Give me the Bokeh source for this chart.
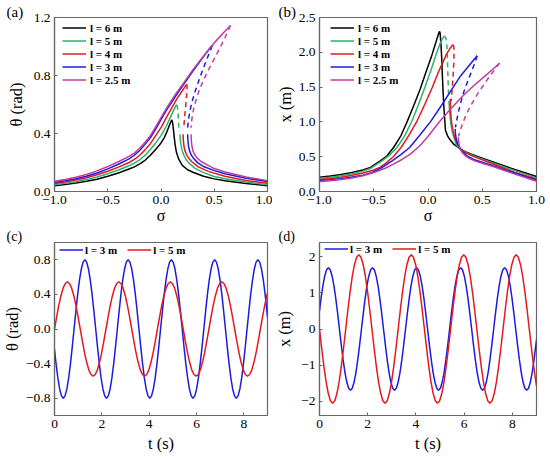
from bokeh.plotting import figure
from bokeh.models import Range1d, FixedTicker, CustomJSTickFormatter, Legend, LegendItem
from bokeh.layouts import gridplot
from bokeh.embed import file_html
from bokeh.resources import INLINE

FONT = "Liberation Serif"
FRAME_COLOR = "#666666"

# ---------------- categories ----------------
L_LABELS = ["l = 6 m", "l = 5 m", "l = 4 m", "l = 3 m", "l = 2.5 m"]
COLORS = ["#000000", "#2bb36c", "#e3191e", "#1c1ce0", "#c23c9f"]
TS_LABELS = ["l = 3 m", "l = 5 m"]
TS_COLORS = ["#1c1ce0", "#e3191e"]

# ---------------- panel (a): theta vs sigma ----------------
a6_sig = [-1.0, -0.9, -0.8, -0.7, -0.6, -0.5, -0.4, -0.3, -0.25, -0.2, -0.15, -0.1, -0.05, 0.0, 0.03, 0.06, 0.08, 0.095, 0.102,
          0.11, 0.118, 0.125, 0.133, 0.145, 0.165, 0.2, 0.25, 0.3, 0.4, 0.5, 0.6, 0.8, 1.0]
a6_th = [0.04, 0.048, 0.058, 0.07, 0.085, 0.105, 0.128, 0.155, 0.17, 0.19, 0.215, 0.25, 0.29, 0.335, 0.37, 0.42, 0.458, 0.485, 0.494,
         0.47, 0.42, 0.37, 0.32, 0.27, 0.225, 0.18, 0.15, 0.133, 0.105, 0.087, 0.074, 0.055, 0.04]

a5_up_sig = [-1.0, -0.9, -0.8, -0.7, -0.6, -0.5, -0.4, -0.3, -0.25, -0.2, -0.15, -0.1, -0.05, 0.0, 0.05, 0.1, 0.125, 0.14, 0.148]
a5_up_th = [0.047, 0.056, 0.068, 0.082, 0.1, 0.123, 0.148, 0.178, 0.195, 0.218, 0.25, 0.29, 0.335, 0.385, 0.45, 0.53, 0.57, 0.59, 0.598]
a5_mid_sig = [0.148, 0.155, 0.16, 0.164, 0.167, 0.169]
a5_mid_th = [0.598, 0.58, 0.54, 0.49, 0.44, 0.41]
a5_lo_sig = [0.178, 0.182, 0.19, 0.2, 0.215, 0.24, 0.27, 0.32, 0.4, 0.5, 0.6, 0.8, 1.0]
a5_lo_th = [0.395, 0.35, 0.31, 0.28, 0.25, 0.215, 0.19, 0.16, 0.13, 0.104, 0.088, 0.065, 0.047]

a4_up_sig = [-1.0, -0.9, -0.8, -0.7, -0.6, -0.5, -0.4, -0.3, -0.25, -0.2, -0.15, -0.1, -0.05, 0.0, 0.05, 0.1, 0.15, 0.2, 0.23, 0.243]
a4_up_th = [0.055, 0.066, 0.079, 0.095, 0.115, 0.14, 0.168, 0.2, 0.222, 0.25, 0.287, 0.33, 0.385, 0.44, 0.51, 0.575, 0.64, 0.695, 0.728, 0.74]
a4_mid_sig = [0.243, 0.245, 0.24, 0.232, 0.224, 0.217, 0.212]
a4_mid_th = [0.74, 0.72, 0.66, 0.59, 0.53, 0.47, 0.43]
a4_lo_sig = [0.207, 0.21, 0.215, 0.225, 0.24, 0.26, 0.29, 0.35, 0.45, 0.6, 0.8, 1.0]
a4_lo_th = [0.395, 0.35, 0.315, 0.28, 0.255, 0.23, 0.205, 0.17, 0.137, 0.105, 0.076, 0.057]

a3_up_sig = [-1.0, -0.9, -0.8, -0.7, -0.6, -0.5, -0.4, -0.3, -0.25, -0.2, -0.15, -0.1, -0.05, 0.0, 0.05, 0.1, 0.15, 0.2, 0.3, 0.4, 0.46, 0.48]
a3_up_th = [0.062, 0.074, 0.088, 0.105, 0.128, 0.156, 0.188, 0.225, 0.25, 0.283, 0.325, 0.37, 0.43, 0.495, 0.56, 0.615, 0.672, 0.725, 0.83, 0.93, 0.99, 1.007]
a3_mid_sig = [0.48, 0.47, 0.44, 0.4, 0.36, 0.32, 0.29, 0.27, 0.257, 0.25]
a3_mid_th = [1.007, 0.985, 0.93, 0.855, 0.775, 0.69, 0.615, 0.55, 0.49, 0.44]
a3_lo_sig = [0.25, 0.253, 0.258, 0.268, 0.285, 0.31, 0.35, 0.4, 0.5, 0.6, 0.8, 1.0]
a3_lo_th = [0.395, 0.35, 0.315, 0.28, 0.25, 0.225, 0.195, 0.172, 0.144, 0.122, 0.092, 0.069]

a25_up_sig = [-1.0, -0.9, -0.8, -0.7, -0.6, -0.5, -0.4, -0.3, -0.25, -0.2, -0.15, -0.1, -0.05, 0.0, 0.05, 0.1, 0.15, 0.2, 0.3, 0.4, 0.5, 0.6, 0.64, 0.651]
a25_up_th = [0.07, 0.083, 0.098, 0.117, 0.142, 0.172, 0.205, 0.242, 0.265, 0.298, 0.34, 0.385, 0.445, 0.51, 0.572, 0.63, 0.685, 0.735, 0.84, 0.935, 1.025, 1.105, 1.135, 1.145]
a25_mid_sig = [0.651, 0.635, 0.6, 0.55, 0.5, 0.45, 0.4, 0.36, 0.33, 0.305, 0.29, 0.282]
a25_mid_th = [1.145, 1.115, 1.06, 0.985, 0.915, 0.845, 0.77, 0.7, 0.635, 0.565, 0.5, 0.44]
a25_lo_sig = [0.282, 0.285, 0.29, 0.3, 0.315, 0.34, 0.38, 0.43, 0.5, 0.6, 0.8, 1.0]
a25_lo_th = [0.395, 0.35, 0.315, 0.28, 0.255, 0.23, 0.205, 0.185, 0.158, 0.135, 0.1, 0.075]

# ---------------- panel (b): x vs sigma ----------------
b6_sig = [-1.0, -0.9, -0.8, -0.7, -0.6, -0.53, -0.44, -0.38, -0.317, -0.25, -0.193, -0.13, -0.07, -0.02, 0.038, 0.06, 0.08, 0.095, 0.105,
          0.11, 0.113, 0.12, 0.127, 0.133, 0.14, 0.148, 0.161, 0.18, 0.2, 0.237, 0.3, 0.35, 0.4, 0.5, 0.6, 0.8, 1.0]
b6_x = [0.205, 0.222, 0.243, 0.272, 0.31, 0.345, 0.44, 0.51, 0.632, 0.8, 1.0, 1.24, 1.48, 1.71, 1.97, 2.08, 2.18, 2.255, 2.3,
        2.29, 2.25, 2.1, 1.9, 1.65, 1.4, 1.17, 0.88, 0.8, 0.75, 0.68, 0.61, 0.57, 0.535, 0.48, 0.425, 0.315, 0.215]

b5_up_sig = [-1.0, -0.9, -0.8, -0.7, -0.6, -0.533, -0.424, -0.35, -0.285, -0.215, -0.147, -0.09, -0.03, 0.025, 0.075, 0.11, 0.135, 0.151]
b5_up_x = [0.19, 0.205, 0.225, 0.255, 0.293, 0.33, 0.44, 0.53, 0.632, 0.8, 1.016, 1.24, 1.49, 1.73, 1.97, 2.12, 2.2, 2.237]
b5_mid_sig = [0.151, 0.165, 0.174, 0.178, 0.181, 0.184, 0.187, 0.19]
b5_mid_x = [2.237, 2.2, 2.1, 1.95, 1.8, 1.65, 1.5, 1.38]
b5_lo_sig = [0.193, 0.2, 0.21, 0.225, 0.25, 0.275, 0.3, 0.35, 0.4, 0.5, 0.6, 0.8, 1.0]
b5_lo_x = [1.3, 1.13, 0.98, 0.85, 0.72, 0.64, 0.6, 0.56, 0.525, 0.465, 0.41, 0.3, 0.196]

b4_up_sig = [-1.0, -0.9, -0.8, -0.7, -0.6, -0.5, -0.44, -0.393, -0.32, -0.248, -0.175, -0.1, -0.03, 0.038, 0.1, 0.17, 0.2, 0.222, 0.232]
b4_up_x = [0.172, 0.186, 0.205, 0.232, 0.265, 0.31, 0.35, 0.4, 0.5, 0.632, 0.81, 1.016, 1.25, 1.49, 1.73, 1.97, 2.05, 2.095, 2.108]
b4_mid_sig = [0.232, 0.238, 0.24, 0.238, 0.233, 0.226, 0.219, 0.214]
b4_mid_x = [2.108, 2.08, 2.0, 1.85, 1.7, 1.55, 1.4, 1.3]
b4_lo_sig = [0.205, 0.207, 0.212, 0.22, 0.235, 0.26, 0.29, 0.33, 0.4, 0.5, 0.6, 0.8, 1.0]
b4_lo_x = [1.33, 1.2, 1.08, 0.96, 0.84, 0.72, 0.63, 0.57, 0.515, 0.455, 0.395, 0.275, 0.18]

b3_up_sig = [-1.0, -0.9, -0.8, -0.7, -0.6, -0.53, -0.44, -0.331, -0.25, -0.169, -0.08, 0.022, 0.13, 0.2, 0.3, 0.4, 0.44, 0.453]
b3_up_x = [0.158, 0.17, 0.185, 0.207, 0.235, 0.265, 0.33, 0.44, 0.53, 0.632, 0.8, 1.0, 1.25, 1.42, 1.66, 1.85, 1.925, 1.95]
b3_mid_sig = [0.453, 0.44, 0.41, 0.37, 0.33, 0.3, 0.277, 0.262, 0.253]
b3_mid_x = [1.95, 1.88, 1.76, 1.6, 1.43, 1.27, 1.12, 1.0, 0.92]
b3_lo_sig = [0.25, 0.253, 0.26, 0.272, 0.29, 0.32, 0.36, 0.42, 0.5, 0.6, 0.8, 1.0]
b3_lo_x = [0.9, 0.83, 0.76, 0.69, 0.63, 0.57, 0.51, 0.46, 0.42, 0.37, 0.265, 0.163]

b25_up_sig = [-1.0, -0.9, -0.8, -0.7, -0.6, -0.5, -0.4, -0.317, -0.24, -0.163, -0.08, -0.008, 0.115, 0.2, 0.3, 0.4, 0.5, 0.6, 0.645, 0.659]
b25_up_x = [0.144, 0.155, 0.172, 0.194, 0.225, 0.273, 0.33, 0.393, 0.46, 0.537, 0.65, 0.776, 1.02, 1.17, 1.34, 1.49, 1.625, 1.76, 1.825, 1.845]
b25_mid_sig = [0.659, 0.63, 0.58, 0.52, 0.46, 0.4, 0.35, 0.315, 0.293, 0.281]
b25_mid_x = [1.845, 1.78, 1.68, 1.55, 1.41, 1.25, 1.1, 0.96, 0.86, 0.79]
b25_lo_sig = [0.279, 0.282, 0.288, 0.298, 0.315, 0.34, 0.38, 0.43, 0.5, 0.6, 0.8, 1.0]
b25_lo_x = [0.78, 0.72, 0.665, 0.61, 0.56, 0.52, 0.475, 0.44, 0.405, 0.36, 0.25, 0.148]

# ---------------- panels (c), (d): time histories ----------------
t_l3 = [0.0, 0.065, 0.142, 0.218, 0.294,
        0.37, 0.446, 0.522, 0.599, 0.675, 0.751, 0.827, 0.903, 0.979, 1.055, 1.132, 1.208,
        1.284, 1.36, 1.436, 1.512, 1.588, 1.665, 1.741, 1.817, 1.893, 1.969, 2.045, 2.122,
        2.198, 2.274, 2.35, 2.426, 2.502, 2.578, 2.655, 2.731, 2.807, 2.883, 2.959, 3.035,
        3.111, 3.188, 3.264, 3.34, 3.416, 3.492, 3.568, 3.645, 3.721, 3.797, 3.873, 3.949,
        4.025, 4.101, 4.178, 4.254, 4.33, 4.406, 4.482, 4.558, 4.634, 4.711, 4.787, 4.863,
        4.939, 5.015, 5.091, 5.168, 5.244, 5.32, 5.396, 5.472, 5.548, 5.624, 5.701, 5.777,
        5.853, 5.929, 6.005, 6.081, 6.157, 6.234, 6.31, 6.386, 6.462, 6.538, 6.614, 6.691,
        6.767, 6.843, 6.919, 6.995, 7.071, 7.147, 7.224, 7.3, 7.376, 7.452, 7.528, 7.604,
        7.68, 7.757, 7.833, 7.909, 7.985, 8.061, 8.137, 8.214, 8.29, 8.366, 8.442, 8.518,
        8.594, 8.67, 8.747, 8.823, 8.899, 8.975, 9.0]
theta_l3 = [-0.235, -0.4, -0.566, -0.693, -0.773,
            -0.8, -0.773, -0.693, -0.566, -0.4, -0.207, 0.0, 0.207, 0.4, 0.566, 0.693, 0.773,
            0.8, 0.773, 0.693, 0.566, 0.4, 0.207, 0.0, -0.207, -0.4, -0.566, -0.693, -0.773,
            -0.8, -0.773, -0.693, -0.566, -0.4, -0.207, 0.0, 0.207, 0.4, 0.566, 0.693, 0.773,
            0.8, 0.773, 0.693, 0.566, 0.4, 0.207, 0.0, -0.207, -0.4, -0.566, -0.693, -0.773,
            -0.8, -0.773, -0.693, -0.566, -0.4, -0.207, 0.0, 0.207, 0.4, 0.566, 0.693, 0.773,
            0.8, 0.773, 0.693, 0.566, 0.4, 0.207, 0.0, -0.207, -0.4, -0.566, -0.693, -0.773,
            -0.8, -0.773, -0.693, -0.566, -0.4, -0.207, 0.0, 0.207, 0.4, 0.566, 0.693, 0.773,
            0.8, 0.773, 0.693, 0.566, 0.4, 0.207, 0.0, -0.207, -0.4, -0.566, -0.693, -0.773,
            -0.8, -0.773, -0.693, -0.566, -0.4, -0.207, 0.0, 0.207, 0.4, 0.566, 0.693, 0.773,
            0.8, 0.773, 0.693, 0.566, 0.4, 0.207, 0.138]
x_l3 = [0.5, 0.85, 1.202, 1.472, 1.642,
        1.7, 1.642, 1.472, 1.202, 0.85, 0.44, 0.0, -0.44, -0.85, -1.202, -1.472, -1.642,
        -1.7, -1.642, -1.472, -1.202, -0.85, -0.44, 0.0, 0.44, 0.85, 1.202, 1.472, 1.642,
        1.7, 1.642, 1.472, 1.202, 0.85, 0.44, 0.0, -0.44, -0.85, -1.202, -1.472, -1.642,
        -1.7, -1.642, -1.472, -1.202, -0.85, -0.44, 0.0, 0.44, 0.85, 1.202, 1.472, 1.642,
        1.7, 1.642, 1.472, 1.202, 0.85, 0.44, 0.0, -0.44, -0.85, -1.202, -1.472, -1.642,
        -1.7, -1.642, -1.472, -1.202, -0.85, -0.44, 0.0, 0.44, 0.85, 1.202, 1.472, 1.642,
        1.7, 1.642, 1.472, 1.202, 0.85, 0.44, 0.0, -0.44, -0.85, -1.202, -1.472, -1.642,
        -1.7, -1.642, -1.472, -1.202, -0.85, -0.44, 0.0, 0.44, 0.85, 1.202, 1.472, 1.642,
        1.7, 1.642, 1.472, 1.202, 0.85, 0.44, 0.0, -0.44, -0.85, -1.202, -1.472, -1.642,
        -1.7, -1.642, -1.472, -1.202, -0.85, -0.44, -0.292]

t_l5 = [0.0, 0.091, 0.181, 0.272, 0.363, 0.453, 0.544, 0.634, 0.725, 0.816, 0.906, 0.997,
        1.088, 1.178, 1.269, 1.359, 1.45, 1.541, 1.631, 1.722, 1.813, 1.903, 1.994, 2.084,
        2.175, 2.266, 2.356, 2.447, 2.538, 2.628, 2.719, 2.809, 2.9, 2.991, 3.081, 3.172,
        3.263, 3.353, 3.444, 3.534, 3.625, 3.716, 3.806, 3.897, 3.988, 4.078, 4.169, 4.259,
        4.35, 4.441, 4.531, 4.622, 4.713, 4.803, 4.894, 4.984, 5.075, 5.166, 5.256, 5.347,
        5.438, 5.528, 5.619, 5.709, 5.8, 5.891, 5.981, 6.072, 6.163, 6.253, 6.344, 6.434,
        6.525, 6.616, 6.706, 6.797, 6.888, 6.978, 7.069, 7.159, 7.25, 7.341, 7.431, 7.522,
        7.613, 7.703, 7.794, 7.884, 7.975, 8.066, 8.156, 8.247, 8.338, 8.428, 8.519, 8.609,
        8.7, 8.791, 8.881, 8.972, 9.0]
theta_l5 = [0.0, 0.141, 0.273, 0.385, 0.472, 0.526, 0.545, 0.526, 0.472, 0.385, 0.273, 0.141,
            0.0, -0.141, -0.273, -0.385, -0.472, -0.526, -0.545, -0.526, -0.472, -0.385, -0.273, -0.141,
            0.0, 0.141, 0.273, 0.385, 0.472, 0.526, 0.545, 0.526, 0.472, 0.385, 0.273, 0.141,
            0.0, -0.141, -0.273, -0.385, -0.472, -0.526, -0.545, -0.526, -0.472, -0.385, -0.273, -0.141,
            0.0, 0.141, 0.273, 0.385, 0.472, 0.526, 0.545, 0.526, 0.472, 0.385, 0.273, 0.141,
            0.0, -0.141, -0.273, -0.385, -0.472, -0.526, -0.545, -0.526, -0.472, -0.385, -0.273, -0.141,
            0.0, 0.141, 0.273, 0.385, 0.472, 0.526, 0.545, 0.526, 0.472, 0.385, 0.273, 0.141,
            0.0, -0.141, -0.273, -0.385, -0.472, -0.526, -0.545, -0.526, -0.472, -0.385, -0.273, -0.141,
            0.0, 0.141, 0.273, 0.385, 0.416]
x_l5 = [0.0, -0.534, -1.03, -1.457, -1.784, -1.99, -2.06, -1.99, -1.784, -1.457, -1.03, -0.534,
        0.0, 0.534, 1.03, 1.457, 1.784, 1.99, 2.06, 1.99, 1.784, 1.457, 1.03, 0.534,
        0.0, -0.534, -1.03, -1.457, -1.784, -1.99, -2.06, -1.99, -1.784, -1.457, -1.03, -0.534,
        0.0, 0.534, 1.03, 1.457, 1.784, 1.99, 2.06, 1.99, 1.784, 1.457, 1.03, 0.534,
        0.0, -0.534, -1.03, -1.457, -1.784, -1.99, -2.06, -1.99, -1.784, -1.457, -1.03, -0.534,
        0.0, 0.534, 1.03, 1.457, 1.784, 1.99, 2.06, 1.99, 1.784, 1.457, 1.03, 0.534,
        0.0, -0.534, -1.03, -1.457, -1.784, -1.99, -2.06, -1.99, -1.784, -1.457, -1.03, -0.534,
        0.0, 0.534, 1.03, 1.457, 1.784, 1.99, 2.06, 1.99, 1.784, 1.457, 1.03, 0.534,
        0.0, -0.534, -1.03, -1.457, -1.572]

# ---------------- axes / ticks ----------------
A_XR, A_YR = (-1.0, 1.0), (0.0, 1.2)
B_XR, B_YR = (-1.0, 1.0), (0.0, 2.5)
C_XR, C_YR = (0.0, 9.0), (-1.0, 1.0)
D_XR, D_YR = (0.0, 9.0), (-2.4, 2.4)
SIG_TICKS = [-1.0, -0.5, 0.0, 0.5, 1.0]
A_YTICKS = [0.0, 0.4, 0.8, 1.2]
B_YTICKS = [0.0, 0.5, 1.0, 1.5, 2.0, 2.5]
T_TICKS = [0, 2, 4, 6, 8]
C_YTICKS = [-0.8, -0.4, 0.0, 0.4, 0.8]
D_YTICKS = [-2, -1, 0, 1, 2]


def make_fig(xr, yr, xticks, yticks, xdec, ydec, w, h, bl, bt, br, bb,
             xlabel, ylabel, xl_stand, yl_stand, xl_size, letter, letter_offset, letter_size, letter_standoff):
    p = figure(width=w, height=h, x_range=Range1d(*xr), y_range=Range1d(*yr),
               output_backend="svg", toolbar_location=None, title=letter,
               min_border_left=bl, min_border_right=br, min_border_top=bt, min_border_bottom=bb)
    p.title.align = "left"
    p.title.offset = letter_offset
    p.title.text_font = FONT
    p.title.text_font_size = letter_size
    p.title.text_font_style = "normal"
    p.title.text_color = "black"
    p.title.standoff = letter_standoff
    p.grid.visible = False
    p.outline_line_color = FRAME_COLOR
    p.outline_line_width = 1.2
    p.background_fill_color = "white"
    p.border_fill_color = "white"
    for ax, ticks, dec, lab, st, sz in ((p.xaxis[0], xticks, xdec, xlabel, xl_stand, xl_size),
                                        (p.yaxis[0], yticks, ydec, ylabel, yl_stand, "16.5px")):
        ax.ticker = FixedTicker(ticks=ticks)
        ax.formatter = CustomJSTickFormatter(args=dict(d=dec),
                                             code="return tick.toFixed(d).replace('-', '\u2212');")
        ax.major_tick_in = 3
        ax.major_tick_out = 0
        ax.minor_tick_line_color = None
        ax.axis_line_color = FRAME_COLOR
        ax.axis_line_width = 1.2
        ax.major_tick_line_color = FRAME_COLOR
        ax.major_label_text_font = FONT
        ax.major_label_text_font_size = "13.5px"
        ax.major_label_text_color = "black"
        ax.major_label_standoff = 4
        ax.axis_label = lab
        ax.axis_label_text_font = FONT
        ax.axis_label_text_font_size = sz
        ax.axis_label_text_font_style = "normal"
        ax.axis_label_text_color = "black"
        ax.axis_label_standoff = st
    return p


def legend(p, items, loc, orient, standoff, spacing):
    leg = Legend(items=items, location=loc, orientation=orient, glyph_width=24, glyph_height=13,
                 label_height=13, label_standoff=standoff, spacing=spacing, padding=0, margin=0,
                 border_line_color=None, background_fill_alpha=0,
                 label_text_font=FONT, label_text_font_size="11px", label_text_font_style="bold",
                 label_text_color="black")
    p.add_layout(leg)


LW = 1.5
DASH = "5 4"

# ---------------- panel (a) ----------------
pa = make_fig(A_XR, A_YR, SIG_TICKS, A_YTICKS, 1, 1, 272, 228, 51, 17, 5, 37,
              "\u03c3", "\u03b8 (rad)", 0, 5, "16px", "(a)", -48, "15px", -5)
a_sets = [
    (a5_up_sig, a5_up_th, a5_mid_sig, a5_mid_th, a5_lo_sig, a5_lo_th),
    (a4_up_sig, a4_up_th, a4_mid_sig, a4_mid_th, a4_lo_sig, a4_lo_th),
    (a3_up_sig, a3_up_th, a3_mid_sig, a3_mid_th, a3_lo_sig, a3_lo_th),
    (a25_up_sig, a25_up_th, a25_mid_sig, a25_mid_th, a25_lo_sig, a25_lo_th),
]
items_a = []
r = pa.line(a6_sig, a6_th, line_color=COLORS[0], line_width=LW)
items_a.append(LegendItem(label=L_LABELS[0], renderers=[r]))
for i, s in enumerate(a_sets, start=1):
    r = pa.line(s[0], s[1], line_color=COLORS[i], line_width=LW)
    pa.line(s[2], s[3], line_color=COLORS[i], line_width=LW, line_dash=DASH)
    pa.line(s[4], s[5], line_color=COLORS[i], line_width=LW)
    items_a.append(LegendItem(label=L_LABELS[i], renderers=[r]))
legend(pa, items_a, (8, 105), "vertical", 4, 0)

# ---------------- panel (b) ----------------
pb = make_fig(B_XR, B_YR, SIG_TICKS, B_YTICKS, 1, 1, 276, 228, 47, 17, 12, 37,
              "\u03c3", "x (m)", 0, 1, "16px", "(b)", -41, "15px", -5)
b_sets = [
    (b5_up_sig, b5_up_x, b5_mid_sig, b5_mid_x, b5_lo_sig, b5_lo_x),
    (b4_up_sig, b4_up_x, b4_mid_sig, b4_mid_x, b4_lo_sig, b4_lo_x),
    (b3_up_sig, b3_up_x, b3_mid_sig, b3_mid_x, b3_lo_sig, b3_lo_x),
    (b25_up_sig, b25_up_x, b25_mid_sig, b25_mid_x, b25_lo_sig, b25_lo_x),
]
items_b = []
r = pb.line(b6_sig, b6_x, line_color=COLORS[0], line_width=LW)
items_b.append(LegendItem(label=L_LABELS[0], renderers=[r]))
for i, s in enumerate(b_sets, start=1):
    r = pb.line(s[0], s[1], line_color=COLORS[i], line_width=LW)
    pb.line(s[2], s[3], line_color=COLORS[i], line_width=LW, line_dash=DASH)
    pb.line(s[4], s[5], line_color=COLORS[i], line_width=LW)
    items_b.append(LegendItem(label=L_LABELS[i], renderers=[r]))
legend(pb, items_b, (11, 105), "vertical", 4, 0)

# ---------------- panel (c) ----------------
pc = make_fig(C_XR, C_YR, T_TICKS, C_YTICKS, 0, 1, 272, 231, 51, 13, 5, 44,
              "t (s)", "\u03b8 (rad)", 3, 1, "16.5px", "(c)", -48, "14px", -3)
r1 = pc.line(t_l3, theta_l3, line_color=TS_COLORS[0], line_width=LW)
r2 = pc.line(t_l5, theta_l5, line_color=TS_COLORS[1], line_width=LW)
legend(pc, [LegendItem(label=TS_LABELS[0], renderers=[r1]), LegendItem(label=TS_LABELS[1], renderers=[r2])],
       (5, 159), "horizontal", 2, 10)

# ---------------- panel (d) ----------------
pd_ = make_fig(D_XR, D_YR, T_TICKS, D_YTICKS, 0, 0, 276, 231, 47, 13, 12, 44,
               "t (s)", "x (m)", 3, 4, "16.5px", "(d)", -41, "14px", -3)
r1 = pd_.line(t_l3, x_l3, line_color=TS_COLORS[0], line_width=LW)
r2 = pd_.line(t_l5, x_l5, line_color=TS_COLORS[1], line_width=LW)
legend(pd_, [LegendItem(label=TS_LABELS[0], renderers=[r1]), LegendItem(label=TS_LABELS[1], renderers=[r2])],
       (5, 160), "horizontal", 2, 10)

grid = gridplot([[pa, pb], [pc, pd_]], toolbar_location=None)
open("out.html", "w").write(file_html(grid, INLINE))
